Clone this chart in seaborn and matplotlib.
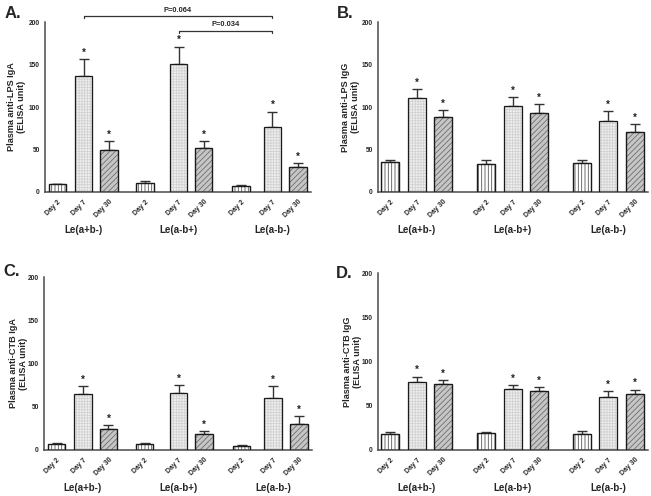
import numpy as np
import pandas as pd
import matplotlib
matplotlib.use("Agg")
import matplotlib.pyplot as plt
import seaborn as sns

# ---------------- data ----------------
groups = ["Le(a+b-)", "Le(a-b+)", "Le(a-b-)"]
days = ["Day 2", "Day 7", "Day 30"]

lps_iga_mean = [9, 137, 50, 11, 151, 52, 7, 77, 30]
lps_iga_sem = [1, 19, 10, 2, 20, 8, 1, 17.5, 4]
lps_igg_mean = [35, 110.6, 88, 33, 101, 93, 34, 83.5, 71]
lps_igg_sem = [2.6, 10.4, 8.5, 4.6, 11, 10, 4, 11.5, 9]
ctb_iga_mean = [6.9, 64.5, 24.6, 7.3, 65.6, 18.8, 5, 60.3, 30]
ctb_iga_sem = [1.5, 9.2, 3.8, 1.1, 9.6, 3.1, 0.8, 13.7, 8.8]
ctb_igg_mean = [17.7, 77.4, 74.3, 18.9, 69, 66.8, 18, 59.6, 63.8]
ctb_igg_sem = [2.3, 5.6, 4.7, 1.9, 4, 4.5, 3.5, 6.8, 4.5]
significant = [False, True, True, False, True, True, False, True, True]

ylabels = ["Plasma anti-LPS IgA\n(ELISA unit)", "Plasma anti-LPS IgG\n(ELISA unit)",
           "Plasma anti-CTB IgA\n(ELISA unit)", "Plasma anti-CTB IgG\n(ELISA unit)"]
panel_letters = ["A.", "B.", "C.", "D."]
yticks = [0, 50, 100, 150, 200]
pvalues = ["P=0.064", "P=0.034"]

# ---------------- style ----------------
sns.set_style("white")
plt.rcParams["font.family"] = ["Liberation Sans", "DejaVu Sans"]
plt.rcParams["font.weight"] = "bold"
plt.rcParams["hatch.linewidth"] = 0.6

W, H = 651, 496
fig = plt.figure(figsize=(W / 100, H / 100), dpi=100)

# layout: positions of bars per column (left / right)
pos_left = [0, 1.02, 2.02, 3.43, 4.75, 5.73, 7.2, 8.43, 9.43]
pos_right = [0, 1.02, 2.0, 3.62, 4.64, 5.62, 7.25, 8.23, 9.25]

# axes rectangles in pixels: left, top(200), right, bottom(0)
rects = [(45, 22, 311, 192), (378, 22, 648, 192), (44, 277, 312, 450), (378, 273, 648, 450)]
xlims = [(-0.49, 9.94), (-0.45, 9.74), (-0.49, 9.94), (-0.45, 9.74)]
label_right_px = [26, 360, 28, 362]
letter_xy = [(5, 18), (337, 18), (3, 276), (336, 278)]
bar_px = 17.5

means = [lps_iga_mean, lps_igg_mean, ctb_iga_mean, ctb_igg_mean]
sems = [lps_iga_sem, lps_igg_sem, ctb_iga_sem, ctb_igg_sem]

styles = {
    "Day 2": dict(face="white", hatch="|||||", hc="#555555"),
    "Day 7": dict(face="#efefef", hatch="++++++", hc="#d2d2d2"),
    "Day 30": dict(face="#c6c6c6", hatch="//////", hc="#6e6e6e"),
}
spine_col = "#4a4a4a"

axes = []
for k in range(4):
    l, t, r, b = rects[k]
    ax = fig.add_axes([l / W, 1 - b / H, (r - l) / W, (b - t) / H])
    axes.append(ax)
    pos = pos_left if k in (0, 2) else pos_right
    xl = xlims[k]
    unit_px = (r - l) / (xl[1] - xl[0])
    mind = np.min(np.diff(pos))
    width = bar_px / unit_px / mind

    df = pd.DataFrame({
        "pos": pos,
        "mean": means[k],
        "sem": sems[k],
        "day": days * 3,
        "group": np.repeat(groups, 3),
    })
    sns.barplot(data=df, x="pos", y="mean", native_scale=True, errorbar=None,
                width=width, color="white", ax=ax, zorder=2)
    patches = list(ax.patches)
    for p, d in zip(patches, df["day"]):
        st = styles[d]
        p.set_facecolor(st["face"])
        p.set_hatch(st["hatch"])
        p.set_linewidth(0.9)
        try:
            p.set_hatchcolor(st["hc"])
            p.set_edgecolor("#1a1a1a")
        except AttributeError:
            p.set_edgecolor(st["hc"])
            ax.add_patch(plt.Rectangle(p.get_xy(), p.get_width(), p.get_height(),
                                       fill=False, edgecolor="#1a1a1a", lw=0.9, zorder=3))

    ax.errorbar(df["pos"], df["mean"], yerr=[np.zeros(9), df["sem"]], fmt="none",
                ecolor="#333333", elinewidth=1.0, capsize=3.6, capthick=1.0, zorder=1)

    for x, m, s, sig in zip(df["pos"], df["mean"], df["sem"], significant):
        if sig:
            ax.annotate("*", xy=(x, m + s), xytext=(0, 1), textcoords="offset points",
                        ha="center", va="bottom", fontsize=7, fontweight="bold", color="#222222")

    ax.set_xlim(*xl)
    ax.set_ylim(0, 200)
    ax.set_yticks(yticks)
    ax.set_yticklabels([str(v) for v in yticks], fontsize=4.8, fontweight="bold")
    ax.set_xticks(pos)
    ax.set_xticklabels(days * 3, rotation=45, ha="right", rotation_mode="anchor",
                       fontsize=5, fontweight="bold")
    ax.tick_params(axis="both", length=2.2, width=0.8, color=spine_col, pad=1.5, direction="out")
    ax.tick_params(axis="x", pad=2.5)
    for sp in ["top", "right"]:
        ax.spines[sp].set_visible(False)
    for sp in ["left", "bottom"]:
        ax.spines[sp].set_color(spine_col)
        ax.spines[sp].set_linewidth(1.1)
    ax.set_xlabel("")
    ax.set_ylabel(ylabels[k], fontsize=6.6, fontweight="bold", linespacing=1.15)
    ax.yaxis.set_label_coords((label_right_px[k] - l) / (r - l), 0.5)

    for gi, g in enumerate(groups):
        ax.annotate(g, xy=(pos[gi * 3 + 1], 0), xycoords=("data", "axes fraction"),
                    xytext=(0, -27.5), textcoords="offset points",
                    ha="center", va="center", fontsize=7, fontweight="bold")

for (x, y), letter in zip(letter_xy, panel_letters):
    fig.text(x / W, 1 - y / H, letter, fontsize=12, fontweight="bold", ha="left", va="baseline")

# significance brackets on panel A
axA = axes[0]
brackets = [(pos_left[1], pos_left[7], 207, 204.5, pvalues[0]),
            (pos_left[4], pos_left[7], 190, 187.5, pvalues[1])]
for x1, x2, yl, yt, txt in brackets:
    axA.plot([x1, x1, x2, x2], [yt, yl, yl, yt], color="#333333", lw=0.9, clip_on=False)
    axA.annotate(txt, xy=((x1 + x2) / 2, yl), xytext=(0, 1.5), textcoords="offset points",
                 ha="center", va="bottom", fontsize=5.4, fontweight="bold", annotation_clip=False)

fig.savefig("out.png", dpi=100)
